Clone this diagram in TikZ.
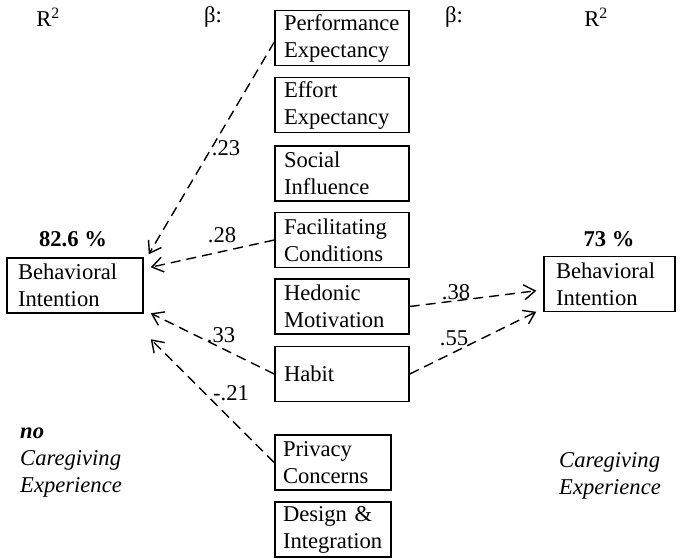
\documentclass[tikz,border=0pt]{standalone}
\usepackage{fontspec}
\setmainfont{Liberation Serif}
\usetikzlibrary{arrows.meta}
\begin{document}
\begin{tikzpicture}[x=1pt,y=-1pt,
  every node/.style={font=\fontsize{22.6}{27}\selectfont},
  box/.style={draw, line width=1.5pt, inner ysep=0pt, minimum height=55pt, align=left},
  wide/.style={inner xsep=9pt, text width=116pt},
  narrow/.style={inner xsep=8pt, text width=100pt},
  conn/.style={dash pattern=on 10pt off 6pt, line width=1.4pt,
    -{Straight Barb[length=11pt,width=15pt,line width=1.4pt]}},
  lbl/.style={inner sep=0pt},
  hdr/.style={inner sep=0pt}
]
\useasboundingbox (0,0) rectangle (676,558);

% headers
\node[hdr] (r2l) at (48,17) {R\textsuperscript{2}};
\node[hdr] (bl) at (213,17) {β:};
\node[hdr] (br) at (454,17) {β:};
\node[hdr] (r2r) at (596,17) {R\textsuperscript{2}};

% central boxes
\node[box,wide] (pe) at (342,38) {Performance\\Expectancy};
\node[box,wide] (ee) at (342,105) {Effort\\Expectancy};
\node[box,wide] (si) at (342,173.5) {Social\\Influence};
\node[box,wide] (fc) at (342,240) {Facilitating\\Conditions};
\node[box,wide] (hm) at (342,306.5) {Hedonic\\Motivation};
\node[box,wide] (hb) at (342,374) {Habit};
\node[box,narrow] (pc) at (333,462.5) {Privacy\\Concerns};
\node[box,narrow] (di) at (333,529.5) {Design \&\\Integration};

% outcome boxes
\node[box,inner xsep=11pt,text width=114pt] (biL) at (75,285.5) {Behavioral\\Intention};
\node[box,inner xsep=12pt,text width=107pt] (biR) at (609.5,284) {Behavioral\\Intention};

\node[hdr] (pl) at (73,239) {\textbf{82.6 \%}};
\node[hdr] (pr) at (609,239) {\textbf{73 \%}};

% group labels
\node[inner sep=0pt,anchor=west,align=left] (gl) at (20,463) {\textbf{\textit{no}}\\\textit{Caregiving}\\\textit{Experience}};
\node[inner sep=0pt,anchor=west,align=left] (gr) at (559,476) {\textit{Caregiving}\\\textit{Experience}};

% arrow end points
\coordinate (t23) at ([shift={(5,-3)}]biL.north east);
\coordinate (t28) at ([shift={(7,10)}]biL.north east);
\coordinate (t33) at ([shift={(7,56)}]biL.north east);
\coordinate (t21) at ([shift={(7,82)}]biL.north east);
\coordinate (t38) at ([shift={(-7,35)}]biR.north west);
\coordinate (t55) at ([shift={(-7,56)}]biR.north west);

\draw[conn] ([yshift=-4pt]pe.west) -- (t23);
\draw[conn] (fc.west) -- (t28);
\draw[conn] (hb.west) -- (t33);
\draw[conn] (pc.west) -- (t21);
\draw[conn] (hm.east) -- (t38);
\draw[conn] (hb.east) -- (t55);

% coefficients
\node[lbl] (l23) at (226,148) {.23};
\node[lbl] (l28) at (222,235) {.28};
\node[lbl] (l33) at (221,335) {.33};
\node[lbl] (l21) at (231,393) {-.21};
\node[lbl] (l38) at (456,292) {.38};
\node[lbl] (l55) at (454,338) {.55};
\end{tikzpicture}
\end{document}
